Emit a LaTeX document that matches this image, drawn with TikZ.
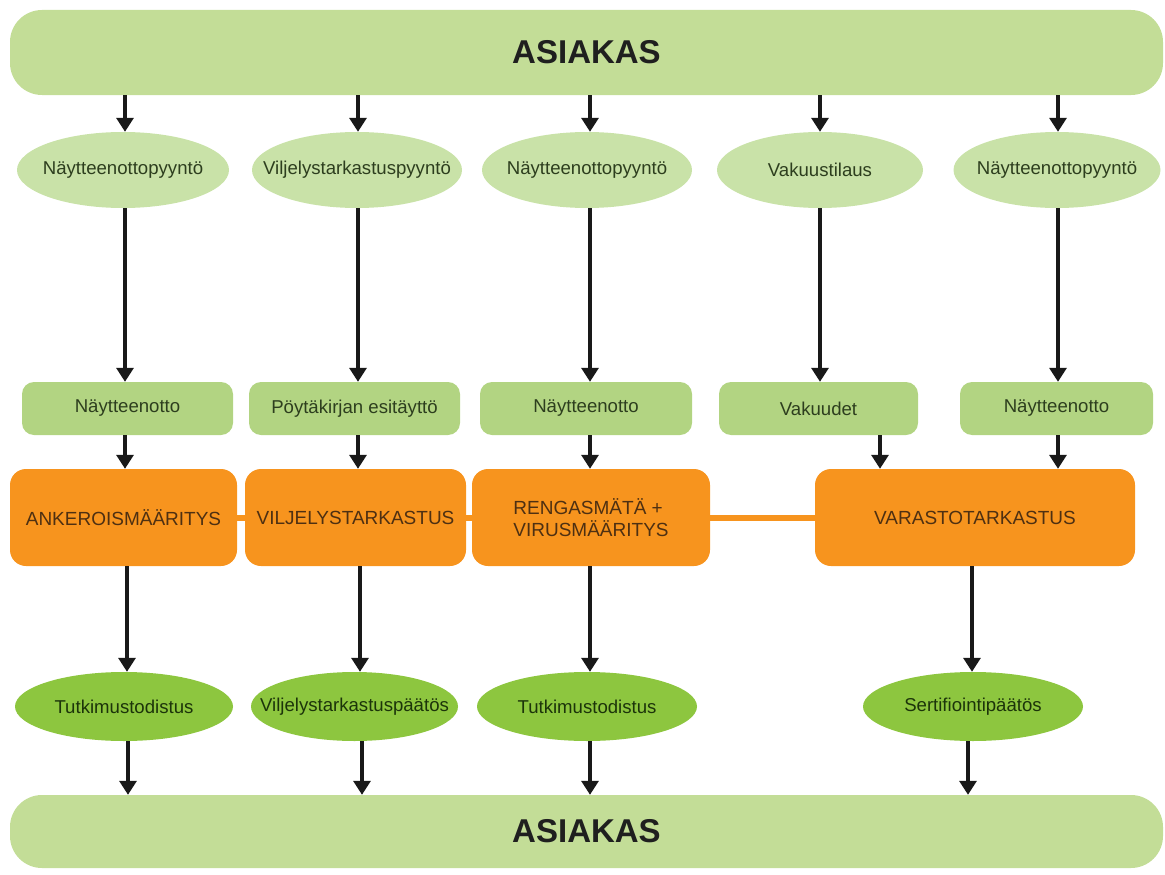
\documentclass[tikz,border=0pt]{standalone}
\usepackage{fontspec}
\setmainfont{Liberation Sans}
\usetikzlibrary{arrows.meta,shapes.geometric,calc}
\definecolor{barg}{RGB}{195,221,151}
\definecolor{ellg}{RGB}{201,226,168}
\definecolor{boxg}{RGB}{178,212,130}
\definecolor{darkg}{RGB}{141,198,63}
\definecolor{orng}{RGB}{247,148,30}
\definecolor{txtg}{RGB}{45,62,30}
\definecolor{txto}{RGB}{78,48,18}
\definecolor{txtd}{RGB}{28,52,10}
\tikzset{
  bar/.style={fill=barg, draw=none, rounded corners=32pt, minimum width=1153pt, inner sep=0pt,
    font=\fontsize{33}{36}\selectfont\bfseries, text=black!88},
  reqell/.style={ellipse, fill=ellg, draw=none, minimum height=76pt, inner xsep=-40pt, inner ysep=0pt,
    font=\fontsize{18.6}{21}\selectfont, text=txtg},
  gbox/.style={rectangle, rounded corners=12pt, fill=boxg, draw=none, minimum height=53pt, inner sep=0pt,
    font=\fontsize{18.6}{21}\selectfont, text=txtg},
  obox/.style={rectangle, rounded corners=16pt, fill=orng, draw=none, minimum height=97pt, inner sep=0pt,
    font=\fontsize{19}{22}\selectfont, text=txto, align=left},
  resell/.style={ellipse, fill=darkg, draw=none, minimum height=69pt, inner xsep=-40pt, inner ysep=0pt,
    font=\fontsize{18.6}{21}\selectfont, text=txtd},
  arr/.style={line width=3.2pt, black!90, -{Triangle[width=17pt,length=14pt]}},
  olink/.style={line width=6pt, orng}
}
\begin{document}
\begin{tikzpicture}[x=1pt,y=-1pt]
\useasboundingbox (0,0) rectangle (1165,875);
% bars
\node[bar, minimum height=85pt] (top) at (586.5,52.5) {ASIAKAS};
\node[bar, minimum height=73pt] (bot) at (586.5,831.5) {ASIAKAS};
% request ellipses
\node[reqell, minimum width=212pt] (e1) at (123,170) {Näytteenottopyyntö};
\node[reqell, minimum width=210pt] (e2) at (357,170) {Viljelystarkastuspyyntö};
\node[reqell, minimum width=210pt] (e3) at (587,170) {Näytteenottopyyntö};
\node[reqell, minimum width=206pt] (e4) at (820,170) {Vakuustilaus};
\node[reqell, minimum width=207pt] (e5) at (1057,170) {Näytteenottopyyntö};
% green boxes
\node[gbox, minimum width=211pt] (g1) at (127.5,408.5) {Näytteenotto};
\node[gbox, minimum width=211pt] (g2) at (354.5,408.5) {Pöytäkirjan esitäyttö};
\node[gbox, minimum width=212pt] (g3) at (586,408.5) {Näytteenotto};
\node[gbox, minimum width=199pt] (g4) at (818.5,408.5) {Vakuudet};
\node[gbox, minimum width=193pt] (g5) at (1056.5,408.5) {Näytteenotto};
% orange boxes
\node[obox, minimum width=227pt] (o1) at (123.5,517.5) {ANKEROISMÄÄRITYS};
\node[obox, minimum width=221pt] (o2) at (355.5,517.5) {VILJELYSTARKASTUS};
\node[obox, minimum width=238pt] (o3) at (591,517.5) {RENGASMÄTÄ +\\VIRUSMÄÄRITYS};
\node[obox, minimum width=320pt] (o4) at (975,517.5) {VARASTOTARKASTUS};
% orange links
\draw[olink] (o1.east) -- (o2.west);
\draw[olink] (o2.east) -- (o3.west);
\draw[olink] (o3.east) -- (o4.west);
% result ellipses
\node[resell, minimum width=218pt] (r1) at (124,706.5) {Tutkimustodistus};
\node[resell, minimum width=207pt] (r2) at (354.5,706.5) {Viljelystarkastuspäätös};
\node[resell, minimum width=220pt] (r3) at (587,706.5) {Tutkimustodistus};
\node[resell, minimum width=220pt] (r4) at (973,706.5) {Sertifiointipäätös};
% arrows top bar -> requests
\foreach \e/\x in {e1/125,e2/358,e3/590,e4/820,e5/1058}{
  \draw[arr] (top.south -| \x,0) -- (\e.north -| \x,0);
}
% requests -> green boxes
\foreach \e/\g/\x in {e1/g1/125,e2/g2/358,e3/g3/590,e4/g4/820,e5/g5/1058}{
  \draw[arr] (\e.south -| \x,0) -- (\g.north -| \x,0);
}
% green boxes -> orange boxes
\draw[arr] (g1.south -| 125,0) -- (o1.north -| 125,0);
\draw[arr] (g2.south -| 358,0) -- (o2.north -| 358,0);
\draw[arr] (g3.south -| 590,0) -- (o3.north -| 590,0);
\draw[arr] (g4.south -| 880,0) -- (o4.north -| 880,0);
\draw[arr] (g5.south -| 1058,0) -- (o4.north -| 1058,0);
% orange boxes -> results
\draw[arr] (o1.south -| 127,0) -- (r1.north -| 127,0);
\draw[arr] (o2.south -| 360,0) -- (r2.north -| 360,0);
\draw[arr] (o3.south -| 590,0) -- (r3.north -| 590,0);
\draw[arr] (o4.south -| 972,0) -- (r4.north -| 972,0);
% results -> bottom bar
\draw[arr] (r1.south -| 128,0) -- (bot.north -| 128,0);
\draw[arr] (r2.south -| 362,0) -- (bot.north -| 362,0);
\draw[arr] (r3.south -| 590,0) -- (bot.north -| 590,0);
\draw[arr] (r4.south -| 968,0) -- (bot.north -| 968,0);
\end{tikzpicture}
\end{document}
